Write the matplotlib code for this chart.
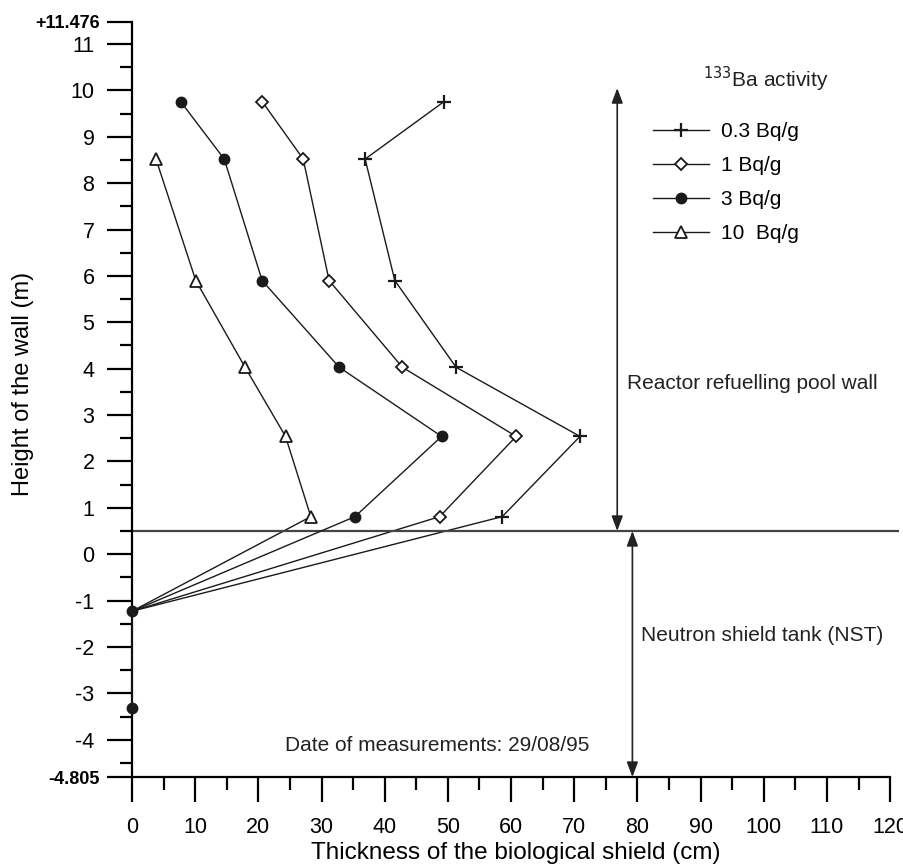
import matplotlib
matplotlib.use("Agg")
import matplotlib.pyplot as plt

plt.rcParams['font.family'] = ['Liberation Sans', 'DejaVu Sans']

# thickness of the biological shield (cm) vs height of the wall (m)
x_03 = [49.4, 36.9, 41.6, 51.3, 70.9, 58.6, 0.0]
y_03 = [9.76, 8.52, 5.90, 4.03, 2.54, 0.81, -1.23]

x_1 = [20.6, 27.1, 31.2, 42.8, 60.8, 48.7, 0.0]
y_1 = [9.76, 8.52, 5.90, 4.03, 2.54, 0.81, -1.23]

x_3 = [7.7, 14.6, 20.6, 32.8, 49.0, 35.3, 0.0, 0.0]
y_3 = [9.76, 8.52, 5.90, 4.03, 2.54, 0.81, -1.23, -3.32]

x_10 = [3.8, 10.1, 17.9, 24.3, 28.3, 0.0]
y_10 = [8.52, 5.90, 4.03, 2.54, 0.81, -1.23]

labels = ["0.3 Bq/g", "1 Bq/g", "3 Bq/g", "10  Bq/g"]

y_top = 11.476
y_bottom = -4.805
pool_bottom = 0.5

fig = plt.figure(figsize=(9.04, 8.68), dpi=100)
ax = fig.add_axes([0.146, 0.1048, 0.8485, 0.8699])

lc = '#1a1a1a'
ax.plot(x_03, y_03, color=lc, lw=1.0, marker='+', ms=10, mew=1.6,
        markevery=list(range(len(x_03) - 1)), label=labels[0])
ax.plot(x_1, y_1, color=lc, lw=1.0, marker='D', ms=6.5, mew=1.3, mfc='white',
        markevery=list(range(len(x_1) - 1)), label=labels[1])
ax.plot(x_3, y_3, color=lc, lw=1.0, marker='o', ms=7.5, mfc=lc, mec=lc,
        label=labels[2], zorder=4, clip_on=False)
ax.plot(x_10, y_10, color=lc, lw=1.0, marker='^', ms=8, mew=1.3, mfc='white',
        markevery=list(range(len(x_10) - 1)), label=labels[3])

ax.set_xlim(0, 121.4)
ax.set_ylim(y_bottom, y_top)

# boundary between pool wall and neutron shield tank
ax.axhline(pool_bottom, color='#444444', lw=1.6)

arrow = dict(arrowstyle='<|-|>,head_length=0.45,head_width=0.17',
             color='#222222', lw=1.2, shrinkA=0, shrinkB=0, mutation_scale=20)
ax.annotate('', xy=(76.8, pool_bottom), xytext=(76.8, 10.05), arrowprops=arrow)
ax.annotate('', xy=(79.2, pool_bottom), xytext=(79.2, y_bottom), arrowprops=arrow,
            annotation_clip=False)

ax.text(78.3, 3.69, "Reactor refuelling pool wall", fontsize=15, va='center',
        color='#222222')
ax.text(80.5, -1.76, "Neutron shield tank (NST)", fontsize=15, va='center',
        color='#222222')
ax.text(24.2, -4.13, "Date of measurements: 29/08/95", fontsize=15, va='center',
        color='#222222')

ax.text(0.827, 0.9245, r"$^{133}$Ba activity", transform=ax.transAxes, fontsize=15,
        ha='center', va='center', color='#222222')
ax.legend(loc='upper left', bbox_to_anchor=(0.679, 0.867), frameon=False,
          fontsize=15, handlelength=2.7, handletextpad=0.55, labelspacing=0.72,
          borderaxespad=0, borderpad=0)

# axes styling
for s in ['top', 'right']:
    ax.spines[s].set_visible(False)
ax.spines['left'].set_linewidth(1.6)
ax.spines['bottom'].set_linewidth(1.6)
ax.spines['bottom'].set_bounds(0, 120)

ax.set_xticks(range(0, 121, 10))
ax.set_xticks(range(5, 120, 10), minor=True)
ax.tick_params(axis='x', which='major', length=18, width=1.6, labelsize=15.5, pad=11)
ax.tick_params(axis='x', which='minor', length=9, width=1.6)

yt = list(range(-4, 12)) + [y_top, y_bottom]
ylabels = [str(v) for v in range(-4, 12)] + ["+11.476", "-4.805"]
ax.set_yticks(yt)
ax.set_yticklabels(ylabels)
ax.set_yticks([v + 0.5 for v in range(-5, 11)], minor=True)
ax.tick_params(axis='y', which='major', length=18, width=1.6, labelsize=15.5, pad=9)
ax.tick_params(axis='y', which='minor', length=9, width=1.6)
for tick in ax.yaxis.get_major_ticks()[-2:]:
    tick.tick1line.set_markersize(12)
    tick.set_pad(5)
    tick.label1.set_fontweight('bold')
    tick.label1.set_fontsize(13)

ax.set_xlabel("Thickness of the biological shield (cm)", fontsize=17.5, labelpad=3)
ax.set_ylabel("Height of the wall (m)", fontsize=17)
ax.yaxis.set_label_coords(-0.128, 0.52)

fig.savefig("out.png", dpi=100)
